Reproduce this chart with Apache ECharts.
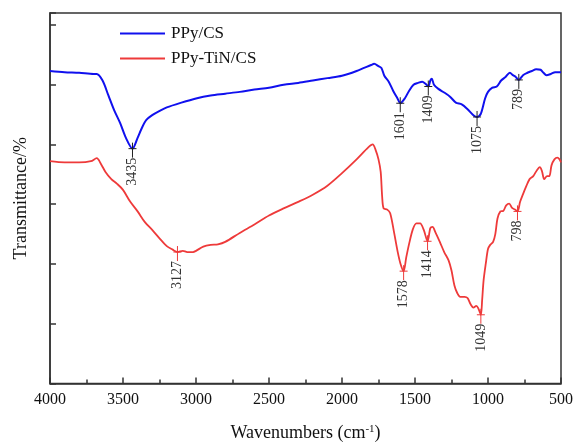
<!DOCTYPE html>
<html>
<head>
<meta charset="utf-8">
<script src="https://cdn.jsdelivr.net/npm/echarts@6/dist/echarts.min.js"></script>
<style>
  html, body { margin: 0; padding: 0; background: #fff; }
  #chart { width: 576px; height: 447px; }
</style>
</head>
<body>
<div id="chart"></div>
<script>
// FTIR spectra, wavenumber (cm-1) vs. transmittance (arbitrary offset units)
const blueX = [4000, 3900, 3800, 3700, 3680, 3640, 3600, 3560, 3520, 3480, 3435, 3400, 3370, 3340, 3300, 3250, 3200, 3100, 3000,
  2900, 2800, 2700, 2600, 2500, 2400, 2300, 2200, 2100, 2000, 1900, 1800, 1780, 1750, 1730, 1710, 1680, 1650, 1620, 1601,
  1570, 1540, 1510, 1480, 1450, 1430, 1409, 1395, 1385, 1370, 1340, 1300, 1260, 1220, 1180, 1140, 1100, 1075, 1050, 1020,
  1000, 970, 940, 910, 880, 850, 830, 810, 789, 760, 730, 700, 670, 640, 620, 600, 570, 540, 500];
const blueY = [5.23, 5.21, 5.20, 5.18, 5.18, 5.07, 4.82, 4.57, 4.36, 4.11, 3.93, 4.11, 4.28, 4.41, 4.49, 4.56, 4.62, 4.70, 4.77,
  4.82, 4.85, 4.88, 4.92, 4.95, 5.00, 5.03, 5.07, 5.11, 5.15, 5.23, 5.33, 5.35, 5.31, 5.28, 5.15, 5.05, 4.90, 4.77, 4.69,
  4.77, 4.90, 5.00, 5.03, 5.05, 5.02, 4.97, 5.07, 5.10, 5.00, 4.93, 4.87, 4.80, 4.70, 4.67, 4.59, 4.49, 4.46, 4.51, 4.77,
  4.88, 4.95, 4.97, 5.07, 5.13, 5.20, 5.16, 5.13, 5.08, 5.16, 5.20, 5.23, 5.26, 5.25, 5.20, 5.16, 5.18, 5.21, 5.21];

const redX = [4000, 3900, 3800, 3720, 3680, 3650, 3620, 3580, 3540, 3500, 3450, 3400, 3350, 3300, 3250, 3200, 3160, 3127, 3090,
  3060, 3020, 3000, 2950, 2900, 2850, 2800, 2700, 2600, 2500, 2400, 2300, 2200, 2100, 2000, 1900, 1820, 1790, 1770, 1750,
  1735, 1725, 1715, 1690, 1670, 1645, 1620, 1600, 1578, 1560, 1540, 1515, 1490, 1465, 1440, 1414, 1395, 1380, 1360, 1330,
  1300, 1270, 1250, 1230, 1210, 1190, 1160, 1140, 1120, 1100, 1080, 1065, 1049, 1040, 1030, 1015, 1000, 985, 965, 950,
  935, 915, 895, 875, 855, 835, 815, 798, 780, 760, 740, 715, 690, 665, 645, 630, 615, 595, 580, 565, 545, 525, 510, 500];
const redY = [3.72, 3.70, 3.70, 3.72, 3.77, 3.67, 3.54, 3.42, 3.34, 3.24, 3.04, 2.88, 2.70, 2.57, 2.43, 2.30, 2.24, 2.20, 2.22,
  2.20, 2.20, 2.22, 2.29, 2.32, 2.33, 2.37, 2.52, 2.66, 2.81, 2.93, 3.04, 3.16, 3.31, 3.52, 3.75, 3.95, 4.00, 3.91, 3.75,
  3.54, 3.13, 2.93, 2.91, 2.85, 2.55, 2.22, 2.01, 1.88, 2.11, 2.34, 2.58, 2.68, 2.68, 2.57, 2.38, 2.60, 2.62, 2.53, 2.37,
  2.20, 2.06, 1.89, 1.64, 1.51, 1.45, 1.45, 1.43, 1.33, 1.27, 1.30, 1.25, 1.15, 1.40, 1.73, 2.01, 2.25, 2.32, 2.37, 2.50,
  2.76, 2.88, 2.89, 2.98, 3.01, 2.94, 2.91, 2.88, 3.04, 3.17, 3.29, 3.42, 3.47, 3.57, 3.62, 3.55, 3.42, 3.47, 3.47, 3.65,
  3.75, 3.78, 3.75, 3.70];

// Labelled absorption bands
const bluePeaks = [3435, 1601, 1409, 1075, 789];
const redPeaks = [3127, 1578, 1414, 1049, 798];

const xTicks = { min: 500, max: 4000, step: 500 };

const zip = (xs, ys) => xs.map((x, i) => [x, ys[i]]);
const peakPoints = (peaks, xs, ys) => peaks.map(p => [p, ys[xs.indexOf(p)]]);

const serif = '"Liberation Serif", "Times New Roman", serif';
const BLUE = '#1010ee';
const RED = '#ee3a3a';

function peakRenderer(markColor) {
  return function (params, api) {
    const pt = api.coord([api.value(0), api.value(1)]);
    const x = pt[0], y = pt[1];
    return {
      type: 'group',
      children: [
        { type: 'line', shape: { x1: x, y1: y - 6, x2: x, y2: y + 9 },
          style: { stroke: markColor, lineWidth: 1 } },
        { type: 'line', shape: { x1: x - 4, y1: y, x2: x + 4, y2: y },
          style: { stroke: markColor, lineWidth: 1 } },
        { type: 'text', x: x, y: y + 9, rotation: Math.PI / 2,
          style: { text: String(api.value(0)), align: 'right', verticalAlign: 'middle',
                   font: '14px ' + serif, fill: '#333' } }
      ]
    };
  };
}

const chart = echarts.init(document.getElementById('chart'), null, { renderer: 'canvas' });
chart.setOption({
  animation: false,
  backgroundColor: '#fff',
  grid: { left: 50, right: 13, top: 13, bottom: 57, show: true, borderColor: '#333', borderWidth: 1.5 },
  legend: {
    left: 115, top: 20, orient: 'vertical', icon: 'rect', itemWidth: 45, itemHeight: 2, itemGap: 8,
    textStyle: { fontFamily: serif, fontSize: 17, color: '#111', padding: [0, 0, 0, 1] },
    data: ['PPy/CS', 'PPy-TiN/CS']
  },
  xAxis: {
    type: 'value', inverse: true, min: xTicks.min, max: xTicks.max, interval: xTicks.step,
    name: 'Wavenumbers (cm{sup|-1})', nameLocation: 'middle', nameGap: 40,
    nameTextStyle: { fontFamily: serif, fontSize: 18, color: '#111',
      rich: { sup: { fontFamily: serif, fontSize: 11, verticalAlign: 'top', padding: [0, 0, 8, 0], color: '#111' } } },
    axisLine: { lineStyle: { color: '#333', width: 1.5 } },
    axisTick: { inside: true, length: 6, lineStyle: { color: '#333', width: 1.5 } },
    minorTick: { show: true, splitNumber: 2, length: 4, lineStyle: { color: '#333', width: 1.5 } },
    axisLabel: { fontFamily: serif, fontSize: 16, color: '#111', margin: 8, formatter: v => String(v) },
    splitLine: { show: false }
  },
  yAxis: {
    type: 'value', min: 0, max: 6.2, interval: 1,
    name: 'Transmittance/%', nameLocation: 'middle', nameGap: 20,
    nameTextStyle: { fontFamily: serif, fontSize: 18, color: '#111' },
    axisLine: { lineStyle: { color: '#333', width: 1.5 } },
    axisTick: { inside: true, length: 6, lineStyle: { color: '#333', width: 1.5 } },
    axisLabel: { show: false },
    splitLine: { show: false }
  },
  series: [
    { name: 'PPy/CS', type: 'line', data: zip(blueX, blueY), symbol: 'none', smooth: 0.3,
      lineStyle: { color: BLUE, width: 2 }, itemStyle: { color: BLUE } },
    { name: 'PPy-TiN/CS', type: 'line', data: zip(redX, redY), symbol: 'none', smooth: 0.3,
      lineStyle: { color: RED, width: 1.8 }, itemStyle: { color: RED } },
    { type: 'custom', data: peakPoints(bluePeaks, blueX, blueY), renderItem: peakRenderer('#222'), z: 5 },
    { type: 'custom', data: peakPoints(redPeaks, redX, redY), renderItem: peakRenderer(RED), z: 5 }
  ]
});
</script>
</body>
</html>
